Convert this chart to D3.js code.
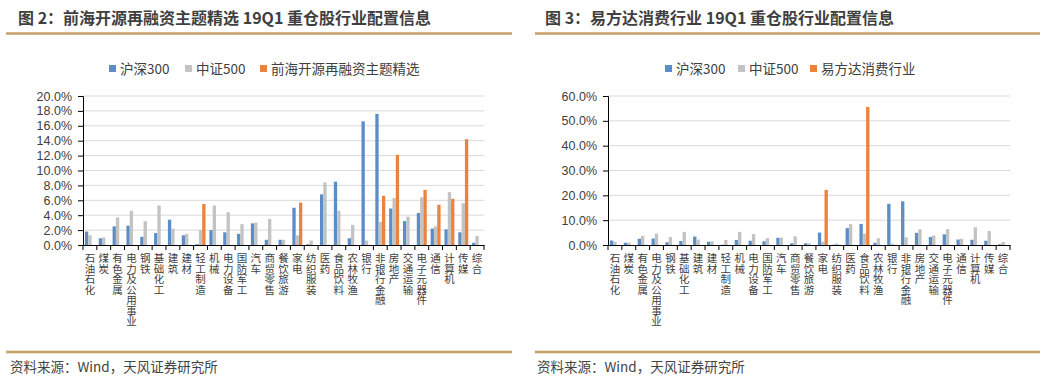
<!DOCTYPE html>
<html>
<head>
<meta charset="utf-8">
<script src="https://cdn.jsdelivr.net/npm/d3@7"></script>
<style>
  body { margin: 0; background: #fff; }
  svg { display: block; font-family: "Noto Sans CJK SC", "Noto Sans", sans-serif; }
  .cat { writing-mode: vertical-rl; text-orientation: upright; }
</style>
</head>
<body>
<div id="chart"></div>
<script>
// industry categories (CITIC level 1)
const categories = ["石油石化", "煤炭", "有色金属", "电力及公用事业", "钢铁", "基础化工", "建筑", "建材",
  "轻工制造", "机械", "电力设备", "国防军工", "汽车", "商贸零售", "餐饮旅游", "家电", "纺织服装", "医药",
  "食品饮料", "农林牧渔", "银行", "非银行金融", "房地产", "交通运输", "电子元器件", "通信", "计算机", "传媒", "综合"];

// weights in %
const hs300 = [1.8, 0.9, 2.5, 2.6, 1.1, 1.6, 3.4, 1.3, 0.1, 2.0, 1.7, 1.5, 2.9, 0.7, 0.7, 5.0, 0.1, 6.8,
  8.5, 0.9, 16.6, 17.6, 4.9, 3.2, 4.3, 2.2, 2.1, 1.7, 0.3];
const zz500 = [1.3, 1.0, 3.7, 4.6, 3.2, 5.3, 2.2, 1.5, 2.0, 5.3, 4.4, 2.8, 3.0, 3.5, 0.7, 1.3, 0.6, 8.4,
  4.6, 2.7, 0.6, 3.1, 6.3, 3.8, 6.4, 2.5, 7.1, 5.6, 1.2];
const qhky = [0, 0, 0, 0, 0, 0, 0, 0, 5.5, 0, 0, 0, 0, 0, 0, 5.7, 0, 0,
  0, 0, 0, 6.6, 12.1, 0, 7.4, 5.4, 6.2, 14.2, 0];
const yfd = [0, 0, 0, 0, 0, 0, 0, 0, 0, 0, 0, 0, 0, 0, 0, 22.2, 0, 0,
  55.6, 0, 0, 0, 0, 0, 0, 0, 0, 0, 0];

const leftTicks = [0, 2, 4, 6, 8, 10, 12, 14, 16, 18, 20];
const rightTicks = [0, 10, 20, 30, 40, 50, 60];

const colors = ["#5b8ec6", "#c3c3c3", "#ea8240"];

const svg = d3.select("#chart").append("svg")
    .attr("width", 1044)
    .attr("height", 384);

function drawPanel(p) {
    let g = svg.append("g");

    // title + rules
    g.append("text")
        .attr("x", p.titleX).attr("y", 24)
        .attr("font-size", 16).attr("font-weight", "bold")
        .attr("fill", "#3f3f3f")
        .text(p.title);
    g.append("line")
        .attr("x1", p.ruleX1).attr("x2", p.ruleX2).attr("y1", 33.5).attr("y2", 33.5)
        .attr("stroke", "#c8a069").attr("stroke-width", 2.5);
    g.append("line")
        .attr("x1", p.ruleX1).attr("x2", p.ruleX2).attr("y1", 352).attr("y2", 352)
        .attr("stroke", "#c8a069").attr("stroke-width", 2.5);
    g.append("text")
        .attr("x", p.titleX - 8).attr("y", 372)
        .attr("font-size", 13.5).attr("fill", "#444")
        .text("资料来源：Wind，天风证券研究所");

    // scales
    let x = d3.scaleBand()
        .domain(categories)
        .range([p.x0, p.x1])
        .paddingInner(0.28)
        .paddingOuter(0.14);
    let xs = d3.scaleBand()
        .domain(d3.range(3))
        .range([0, x.bandwidth()]);
    let y = d3.scaleLinear()
        .domain([0, d3.max(p.ticks)])
        .range([245, 96]);

    // gridlines
    g.append("g").selectAll("line")
        .data(p.ticks.filter(d => d > 0))
        .enter().append("line")
        .attr("x1", p.x0).attr("x2", p.x1)
        .attr("y1", d => y(d)).attr("y2", d => y(d))
        .attr("stroke", "#d9d9d9");

    // bars
    let series = [p.a, p.b, p.c];
    series.forEach((vals, si) => {
        g.append("g").selectAll("rect")
            .data(vals)
            .enter().append("rect")
            .attr("x", (d, i) => x(categories[i]) + xs(si))
            .attr("width", xs.bandwidth())
            .attr("y", d => y(d))
            .attr("height", d => y(0) - y(d))
            .attr("fill", colors[si]);
    });

    // y axis
    let yAxis = g.append("g")
        .attr("transform", `translate(${p.x0},0)`)
        .call(d3.axisLeft(y).tickValues(p.ticks).tickFormat(d => d.toFixed(1) + "%").tickSize(5).tickPadding(6));
    yAxis.selectAll("text").attr("font-size", 12.5).attr("fill", "#404040")
        .attr("font-family", "Liberation Sans, Arial, sans-serif");
    yAxis.selectAll("line, path").attr("stroke", "#000");

    // x axis line, ticks between categories
    let xAxis = g.append("g")
        .attr("transform", "translate(0,245)")
        .call(d3.axisBottom(x).tickSize(0).tickFormat(""));
    xAxis.select("path").attr("stroke", "#000");
    g.append("g").selectAll("line")
        .data(d3.range(categories.length + 1))
        .enter().append("line")
        .attr("x1", i => p.x0 + i * x.step())
        .attr("x2", i => p.x0 + i * x.step())
        .attr("y1", 245).attr("y2", 250)
        .attr("stroke", "#000");

    // vertical category labels
    g.append("g").selectAll("text")
        .data(categories)
        .enter().append("text")
        .attr("class", "cat")
        .attr("x", d => x(d) + x.bandwidth() / 2)
        .attr("y", 253)
        .attr("font-size", 10.5)
        .attr("fill", "#404040")
        .text(d => d);

    // legend
    let leg = g.append("g");
    p.legend.forEach((name, i) => {
        leg.append("rect")
            .attr("x", p.legX[i]).attr("y", 65)
            .attr("width", 7).attr("height", 7)
            .attr("fill", colors[i]);
        leg.append("text")
            .attr("x", p.legX[i] + 11).attr("y", 74)
            .attr("font-size", 13.5).attr("fill", "#404040")
            .text(name);
    });
}

drawPanel({
    title: "图 2：前海开源再融资主题精选 19Q1 重仓股行业配置信息",
    titleX: 18, ruleX1: 6, ruleX2: 512,
    x0: 83, x1: 484, ticks: leftTicks,
    a: hs300, b: zz500, c: qhky,
    legend: ["沪深300", "中证500", "前海开源再融资主题精选"],
    legX: [109, 185, 260]
});

drawPanel({
    title: "图 3：易方达消费行业 19Q1 重仓股行业配置信息",
    titleX: 545, ruleX1: 535, ruleX2: 1040,
    x0: 608, x1: 1010, ticks: rightTicks,
    a: hs300, b: zz500, c: yfd,
    legend: ["沪深300", "中证500", "易方达消费行业"],
    legX: [665, 738, 810]
});
</script>
</body>
</html>
